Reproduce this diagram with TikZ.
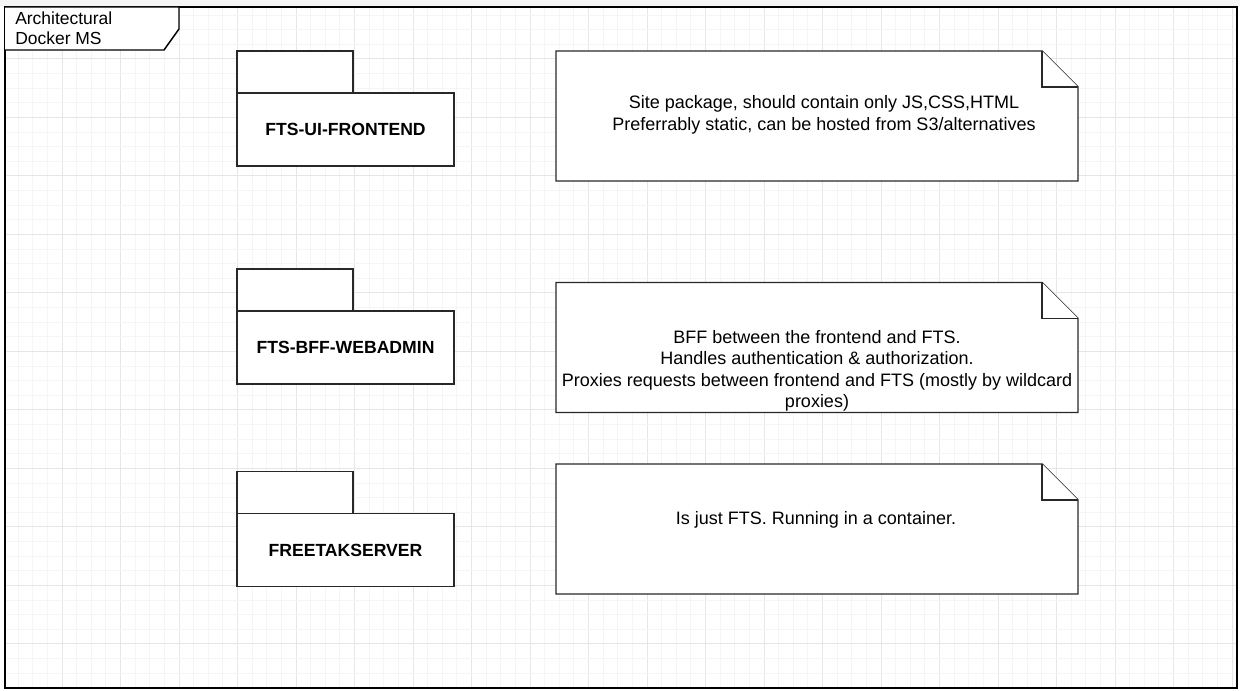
\documentclass[tikz,border=0pt]{standalone}
\usepackage{fontspec}
\setmainfont{Liberation Sans}
\usetikzlibrary{positioning}
\definecolor{gridminor}{RGB}{245,245,245}
\definecolor{gridmajor}{RGB}{230,230,230}
\definecolor{edgec}{RGB}{40,40,40}

\begin{document}
\begin{tikzpicture}[x=0.75pt, y=-0.75pt,
		pkgbody/.style={draw=edgec, line width=1.1pt, fill=white, outer sep=0pt, minimum width=162.75pt, minimum height=54.75pt, font=\bfseries\fontsize{13.2}{16}\selectfont},
		pkgtab/.style={draw=edgec, line width=1.1pt, fill=white, outer sep=0pt, minimum width=87pt, minimum height=31.5pt},
		notebox/.style={outer sep=0pt, inner sep=0pt, minimum width=391.5pt, minimum height=97.5pt},
		noteline/.style={draw=edgec, line width=1.1pt, fill=white},
		notetext/.style={align=center, font=\fontsize{13.5}{16}\selectfont},
		titletext/.style={align=left, anchor=west, inner sep=0pt, font=\fontsize{13.1}{15}\selectfont}]
		\useasboundingbox (0,0) rectangle (1240,691);
		\fill[white] (0,0) rectangle (1240,691);
		\fill[gray!8] (0,0) rectangle (1240,6);
		
		% grid
		\begin{scope}
		\clip (5,7) rectangle (1237,688);
		\foreach \k in {0,...,84} {
			\pgfmathtruncatemacro{\m}{mod(\k,4)}
			\ifnum\m=0 \def\gc{gridmajor}\else\def\gc{gridminor}\fi
			\draw[\gc, line width=0.75pt] (3.5+14.625*\k,0) -- (3.5+14.625*\k,691);
		}
		\foreach \k in {0,...,47} {
			\pgfmathtruncatemacro{\m}{mod(\k,4)}
			\ifnum\m=0 \def\gc{gridmajor}\else\def\gc{gridminor}\fi
			\draw[\gc, line width=0.75pt] (0,0.5+14.625*\k) -- (1240,0.5+14.625*\k);
		}
		\end{scope}
		
		% frame
		\draw[black, line width=1.5pt] (5,7) rectangle (1237,688);
		\draw[black, line width=1.1pt, fill=white] (5,7) -- (179,7) -- (179,29) -- (164,50) -- (5,50);
		\node[titletext] (title) at (15,28) {Architectural\\Docker MS};
		
		% packages
		\node[pkgbody] (ui) at (345.5,129.5) {FTS-UI-FRONTEND};
		\node[pkgtab, above right=0pt and 0pt of ui.north west] (uitab) {};
		
		\node[pkgbody] (bff) at (345.5,347.5) {FTS-BFF-WEBADMIN};
		\node[pkgtab, above right=0pt and 0pt of bff.north west] (bfftab) {};
		
		\node[pkgbody] (fts) at (345.5,550) {FREETAKSERVER};
		\node[pkgtab, above right=0pt and 0pt of fts.north west] (ftstab) {};
		
		% notes
		\node[notebox] (uinote) at (817,116) {};
		\draw[noteline] (uinote.south west) -- (uinote.north west) -- ([xshift=-27pt]uinote.north east) -- ([yshift=-27pt]uinote.north east) -- (uinote.south east) -- cycle;
		\draw[noteline] ([xshift=-27pt]uinote.north east) -- ([xshift=-27pt,yshift=-27pt]uinote.north east) -- ([yshift=-27pt]uinote.north east);
		\node[notetext] (uitext) at (824,115) {Site package, should contain only JS,CSS,HTML\\Preferrably static, can be hosted from S3/alternatives};
		
		\node[notebox] (bffnote) at (817,347.5) {};
		\draw[noteline] (bffnote.south west) -- (bffnote.north west) -- ([xshift=-27pt]bffnote.north east) -- ([yshift=-27pt]bffnote.north east) -- (bffnote.south east) -- cycle;
		\draw[noteline] ([xshift=-27pt]bffnote.north east) -- ([xshift=-27pt,yshift=-27pt]bffnote.north east) -- ([yshift=-27pt]bffnote.north east);
		\node[notetext] (bfftext) at (817,371) {BFF between the frontend and FTS.\\Handles authentication \& authorization.\\Proxies requests between frontend and FTS (mostly by wildcard\\proxies)};
		
		\node[notebox] (ftsnote) at (817,529) {};
		\draw[noteline] (ftsnote.south west) -- (ftsnote.north west) -- ([xshift=-27pt]ftsnote.north east) -- ([yshift=-27pt]ftsnote.north east) -- (ftsnote.south east) -- cycle;
		\draw[noteline] ([xshift=-27pt]ftsnote.north east) -- ([xshift=-27pt,yshift=-27pt]ftsnote.north east) -- ([yshift=-27pt]ftsnote.north east);
		\node[notetext] (ftstext) at (816,520) {Is just FTS. Running in a container.};
		
\end{tikzpicture}
\end{document}
